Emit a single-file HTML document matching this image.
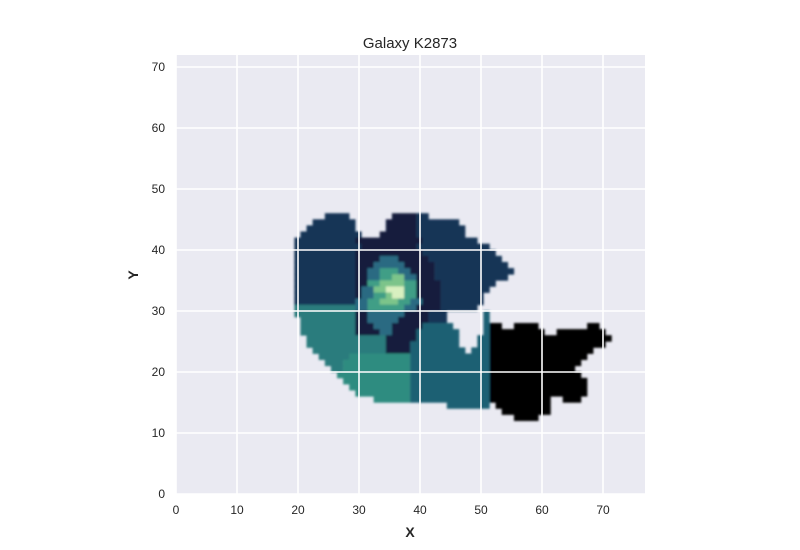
<!DOCTYPE html>
<html><head><meta charset="utf-8">
<style>
body{margin:0;background:#fff;}
svg{display:block;font-family:"Liberation Sans",Arial,sans-serif;}
</style></head>
<body>
<svg id="chart" width="800" height="550" viewBox="0 0 800 550">
  <defs>
    <clipPath id="clip"><rect x="176" y="55" width="469" height="439"/></clipPath>
    <filter id="soft" x="-5%" y="-5%" width="110%" height="110%"><feGaussianBlur stdDeviation="1"/></filter>
  </defs>
  <rect x="176" y="55" width="469" height="439" fill="#eaeaf2"/>
  <g clip-path="url(#clip)"><g id="cells" filter="url(#soft)"></g></g>
  <g id="grid"></g>
  <g id="ticks"></g>
  <text x="410" y="48" font-size="15" text-anchor="middle" fill="#262626">Galaxy K2873</text>
  <text x="410" y="537" font-size="14" font-weight="bold" text-anchor="middle" fill="#262626">X</text>
  <text x="138" y="275" font-size="14" font-weight="bold" text-anchor="middle" fill="#262626" transform="rotate(-90 138 275)">Y</text>
</svg>
<script>
const xTicks = [0,10,20,30,40,50,60,70];
const yTicks = [0,10,20,30,40,50,60,70];
const palette = ["#183657","#121f3d","#2b7c7d","#2e8c80","#1e6173","#000000","#2a6a82","#3f9e86","#7cc48a","#d8f0c0"];
// rows: [y, [x0,x1,colorIndex], ...]
const rowsTop = [
 [46,[25,29,0],[36,40,1],[40,42,0]],
 [45,[23,30,0],[35,40,1],[40,47,0]],
 [44,[22,30,0],[35,40,1],[40,48,0]],
 [43,[21,31,0],[34,40,1],[40,48,0]],
 [42,[20,30,0],[30,41,1],[41,50,0]],
 [41,[20,31,0],[31,40,1],[40,52,0]],
 [40,[20,30,0],[30,41,1],[41,53,0]],
 [39,[20,30,0],[30,34,1],[34,37,6],[37,42,1],[42,54,0]],
 [38,[20,30,0],[30,33,1],[33,38,6],[38,43,1],[43,55,0]],
 [37,[20,30,0],[30,32,1],[32,34,6],[34,37,7],[37,39,6],[39,43,1],[43,56,0]],
 [36,[20,30,0],[30,32,1],[32,34,6],[34,36,7],[36,38,8],[38,40,6],[40,43,1],[43,55,0]],
 [35,[20,30,0],[30,32,1],[32,34,7],[34,38,8],[38,40,7],[40,44,1],[44,53,0]],
 [34,[20,30,0],[30,31,1],[31,33,6],[33,35,8],[35,38,9],[38,40,7],[40,44,1],[44,52,0]],
 [33,[20,30,0],[30,31,1],[31,33,6],[33,35,7],[35,36,8],[36,38,9],[38,40,7],[40,44,1],[44,51,0]],
 [32,[20,30,0],[30,32,6],[32,34,7],[34,37,8],[37,39,7],[39,41,6],[41,44,1],[44,51,0]]
];
const rowsBottom = [
 [31,[20,30,2],[30,32,6],[32,38,7],[38,40,6],[40,44,1],[44,50,0]],
 [30,[20,30,2],[30,32,1],[32,38,6],[38,42,1],[42,45,0],[51,52,4]],
 [29,[21,30,2],[30,32,1],[32,37,6],[37,42,1],[42,45,0],[51,52,4]],
 [28,[21,30,2],[30,33,1],[33,36,6],[36,41,1],[41,46,4],[51,52,4]],
 [27,[21,30,2],[30,34,1],[34,36,6],[36,40,1],[40,47,4],[51,52,4]],
 [26,[22,35,2],[35,40,1],[40,47,4],[50,52,4]],
 [25,[22,35,2],[35,39,1],[39,47,4],[50,52,4]],
 [24,[23,35,2],[35,39,1],[39,48,4],[49,52,4]],
 [23,[24,29,2],[29,39,3],[39,52,4]],
 [22,[25,28,2],[28,39,3],[39,52,4]],
 [21,[26,28,2],[28,39,3],[39,52,4]],
 [20,[27,39,3],[39,52,4]],
 [19,[28,39,3],[39,52,4]],
 [18,[29,39,3],[39,52,4]],
 [17,[30,39,3],[39,52,4]],
 [16,[33,39,3],[39,52,4]],
 [15,[45,52,4]]
];
const rowsBlack = [
 [28,[52,54,5],[56,60,5],[68,70,5]],
 [27,[52,61,5],[63,71,5]],
 [26,[52,72,5]],
 [25,[52,71,5]],
 [24,[52,69,5]],
 [23,[52,68,5]],
 [22,[52,67,5]],
 [21,[52,66,5]],
 [20,[52,67,5]],
 [19,[52,68,5]],
 [18,[52,68,5]],
 [17,[52,68,5]],
 [16,[52,62,5],[64,67,5]],
 [15,[53,62,5]],
 [14,[54,62,5]],
 [13,[56,60,5]]
];
const X0=176, Y0=494, S=6.1;
function sx(v){return X0+v*S;}
function sy(v){return Y0-v*S;}
const NS="http://www.w3.org/2000/svg";
const cells=document.getElementById("cells");
[rowsTop,rowsBottom,rowsBlack].forEach(rows=>{
  rows.forEach(r=>{
    const y=r[0];
    for(let i=1;i<r.length;i++){
      const seg=r[i];
      const rc=document.createElementNS(NS,"rect");
      rc.setAttribute("x",sx(seg[0]-0.6));
      rc.setAttribute("y",sy(y)-0.2);
      rc.setAttribute("width",(seg[1]-seg[0])*S+0.2);
      rc.setAttribute("height",S+0.4);
      rc.setAttribute("fill",palette[seg[2]]);
      
      
      cells.appendChild(rc);
    }
  });
});
const grid=document.getElementById("grid"), ticks=document.getElementById("ticks");
xTicks.forEach(t=>{
  const l=document.createElementNS(NS,"line");
  l.setAttribute("x1",sx(t));l.setAttribute("x2",sx(t));l.setAttribute("y1",55);l.setAttribute("y2",494);
  l.setAttribute("stroke","#fff");l.setAttribute("stroke-width","1.6");
  
  
  grid.appendChild(l);
  const tx=document.createElementNS(NS,"text");
  tx.setAttribute("x",sx(t));tx.setAttribute("y",514);tx.setAttribute("font-size","12");
  tx.setAttribute("text-anchor","middle");tx.setAttribute("fill","#262626");
  tx.textContent=t;
  
  
  ticks.appendChild(tx);
});
yTicks.forEach(t=>{
  const l=document.createElementNS(NS,"line");
  l.setAttribute("x1",176);l.setAttribute("x2",645);l.setAttribute("y1",sy(t));l.setAttribute("y2",sy(t));
  l.setAttribute("stroke","#fff");l.setAttribute("stroke-width","1.6");
  
  
  grid.appendChild(l);
  const tx=document.createElementNS(NS,"text");
  tx.setAttribute("x",165);tx.setAttribute("y",sy(t)+4);tx.setAttribute("font-size","12");
  tx.setAttribute("text-anchor","end");tx.setAttribute("fill","#262626");
  tx.textContent=t;
  
  
  ticks.appendChild(tx);
});
</script>
</body></html>
